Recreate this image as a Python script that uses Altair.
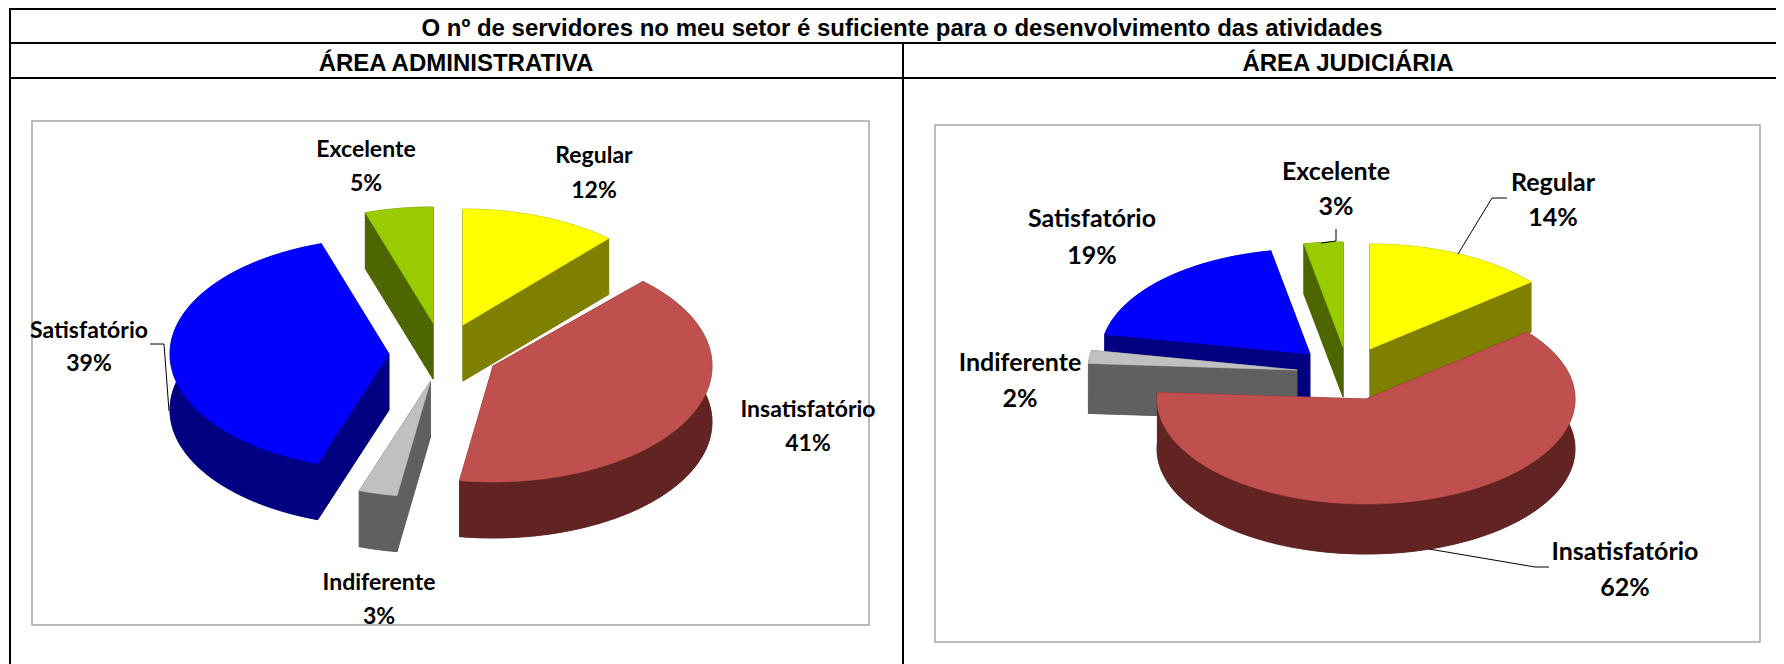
import math
import altair as alt
import pandas as pd

TITLE = "O nº de servidores no meu setor é suficiente para o desenvolvimento das atividades"
PANELS = ["ÁREA ADMINISTRATIVA", "ÁREA JUDICIÁRIA"]
CATEGORIES = ["Regular", "Insatisfatório", "Indiferente", "Satisfatório", "Excelente"]
ADMIN_VALUES = [12, 41, 3, 39, 5]
JUDIC_VALUES = [14, 62, 2, 19, 3]
TOP_COLORS = ["#FFFF00", "#C0504D", "#C0C0C0", "#0000FF", "#99CC00"]
WALL_COLORS = ["#808000", "#622423", "#606060", "#000080", "#4D6600"]

# layout (page pixels); nudge = perspective correction of slice edges, in degrees
ADMIN_PIE = dict(rx=219, ry=116, depth=56, order=[4, 3, 0, 2, 1],
                 centers=[(463, 325), (493, 366), (430.5, 381), (389, 354), (433, 323)],
                 nudge=[(0, -1.5), (0, -2), (-2, -2.6), (-2.6, 0), (0, 0)])
JUDIC_PIE = dict(rx=209, ry=105, depth=50, order=[4, 3, 2, 0, 1],
                 centers=[(1370, 349), (1366, 399), (1297, 370), (1310, 354), (1343, 347)],
                 nudge=[(0, 0)] * 5)
ADMIN_LABELS = [(594, 163, 198), (808, 417, 451), (379, 590, 624), (89, 338, 371), (366, 157, 191)]
JUDIC_LABELS = [(1553, 191, 226), (1625, 560, 596), (1020, 371, 407), (1092, 227, 264), (1336, 180, 215)]
LABEL_SIZES = [23, 25]
LEADERS = [
    [(150, 344), (164, 344), (169, 411)],
    [(1507, 198), (1492, 198), (1458, 254)],
    [(1336, 229), (1336, 241), (1321, 243)],
    [(1549, 567), (1535, 567), (1429, 549)],
]
BOXES = [(32, 121, 869, 625), (935, 125, 1760, 642)]
FRAME = [
    [(9, 9), (1790, 9)], [(10, 43), (1790, 43)], [(10, 78), (1790, 78)],
    [(10, 9), (10, 670)], [(903, 43), (903, 670)],
]


def feat(coords, fill):
    return {"type": "Feature", "properties": {"fill": fill},
            "geometry": {"type": "Polygon", "coordinates": [coords + [coords[0]]]}}


def line(coords):
    return {"type": "Feature", "properties": {},
            "geometry": {"type": "LineString", "coordinates": coords}}


def pie(values, spec):
    total = sum(values)
    rx, ry, d = spec["rx"], spec["ry"], spec["depth"]
    feats = []
    cum = [sum(values[:i]) for i in range(len(values))]
    for i in spec["order"]:
        cx, cy = spec["centers"][i]
        a0 = cum[i] / total * 2 * math.pi + math.radians(spec["nudge"][i][0])
        a1 = (cum[i] + values[i]) / total * 2 * math.pi + math.radians(spec["nudge"][i][1])
        n = max(4, int(values[i] * 2))
        arc = []
        for k in range(n + 1):
            t = a0 + (a1 - a0) * k / n
            arc.append([cx + rx * math.sin(t), cy - ry * math.cos(t)])
        down = [[x, y + d] for x, y in arc]
        apex = [cx, cy]
        apex_d = [cx, cy + d]
        wall = WALL_COLORS[i]
        feats.append(feat([apex_d] + down, wall))
        feats.append(feat([apex, arc[0], down[0], apex_d], wall))
        feats.append(feat([apex, arc[-1], down[-1], apex_d], wall))
        feats.append(feat(arc + down[::-1], wall))
        feats.append(feat([apex] + arc, TOP_COLORS[i]))
    return feats


PROJ = dict(type="identity", scale=1, translate=[-8, -8])

boxes = [feat([[a, b], [c, b], [c, d], [a, d]], "#FFFFFF") for a, b, c, d in BOXES]
box_layer = alt.Chart(alt.Data(values=boxes)).mark_geoshape(
    fill="#FFFFFF", stroke="#A6A6A6", strokeWidth=1.5
).project(**PROJ)

shapes = pie(ADMIN_VALUES, ADMIN_PIE) + pie(JUDIC_VALUES, JUDIC_PIE)
pie_layer = alt.Chart(alt.Data(values=shapes)).mark_geoshape(strokeWidth=0.6).encode(
    fill=alt.Fill("properties.fill:N", scale=None),
    stroke=alt.Stroke("properties.fill:N", scale=None),
).project(**PROJ)

leader_layer = alt.Chart(alt.Data(values=[line(c) for c in LEADERS])).mark_geoshape(
    filled=False, stroke="#000000", strokeWidth=1
).project(**PROJ)

frame_layer = alt.Chart(alt.Data(values=[line(c) for c in FRAME])).mark_geoshape(
    filled=False, stroke="#000000", strokeWidth=2
).project(**PROJ)

rows = []
for vals, pos, size in ((ADMIN_VALUES, ADMIN_LABELS, LABEL_SIZES[0]), (JUDIC_VALUES, JUDIC_LABELS, LABEL_SIZES[1])):
    for c, v, (x, y1, y2) in zip(CATEGORIES, vals, pos):
        rows.append({"t": c, "x": x, "y": y1, "s": size})
        rows.append({"t": f"{v}%", "x": x, "y": y2, "s": size})
label_layer = alt.Chart(pd.DataFrame(rows)).mark_text(
    font="Lato", fontWeight="bold", baseline="alphabetic", align="center", color="#000000"
).encode(longitude="x:Q", latitude="y:Q", text="t:N",
         size=alt.Size("s:Q", scale=None, legend=None)).project(**PROJ)

heads = pd.DataFrame([
    {"t": TITLE, "x": 902, "y": 36},
    {"t": PANELS[0], "x": 456, "y": 71},
    {"t": PANELS[1], "x": 1348, "y": 71},
])
head_layer = alt.Chart(heads).mark_text(
    font="Liberation Sans", fontWeight="bold", fontSize=24, baseline="alphabetic", align="center", color="#000000"
).encode(longitude="x:Q", latitude="y:Q", text="t:N").project(**PROJ)

chart = alt.layer(box_layer, pie_layer, leader_layer, frame_layer, label_layer, head_layer).properties(
    width=1768, height=656, padding=0, background="#FFFFFF"
).configure_view(stroke=None)

chart.save("out.html", embed_options={"renderer": "svg", "actions": False})
